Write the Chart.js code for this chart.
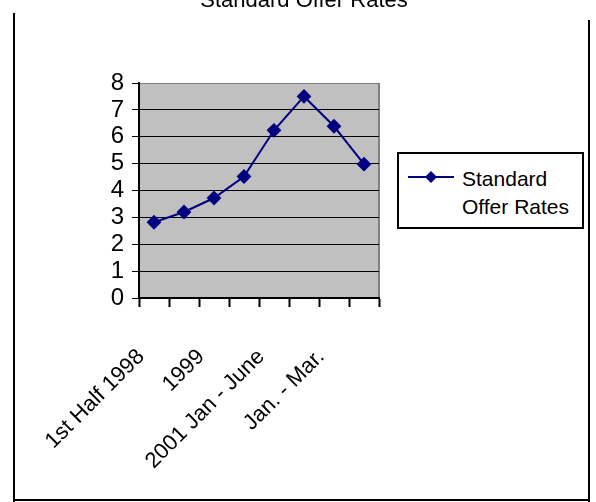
<!DOCTYPE html>
<html>
<head>
<meta charset="utf-8">
<script src="https://cdn.jsdelivr.net/npm/chart.js@4"></script>
<style>
  body { margin: 0; background: #fff; font-family: "Liberation Sans", Arial, sans-serif; }
  #frame { position: relative; width: 596px; height: 502px; overflow: hidden; background: #fff; }
  #titulo { position: absolute; left: 0; width: 608px; top: -13px; text-align: center; font-size: 22px; line-height: 26px; color: #000; }
  .edge { position: absolute; background: #000; }
  #legend {
    position: absolute; left: 397px; top: 152px; width: 183px; height: 73px;
    border: 2px solid #000; background: #fff; font-size: 21px; color: #000;
  }
  #legend .txt { position: absolute; left: 63px; top: 11px; line-height: 28px; }
  #legend svg { position: absolute; left: 9px; top: 16px; }
</style>
</head>
<body>
<div id="frame">
  <canvas id="chartRates" width="596" height="502" style="position:absolute; left:0; top:0;"></canvas>
  <div id="titulo">Standard Offer Rates</div>
  <div class="edge" style="left:13px; top:13px; width:2px; height:489px;"></div>
  <div class="edge" style="left:588px; top:20px; width:2px; height:482px;"></div>
  <div class="edge" style="left:13px; top:499px; width:577px; height:2px;"></div>
  <div id="legend">
    <svg width="50" height="14"><line x1="0" y1="7" x2="46" y2="7" stroke="#000080" stroke-width="2"/><polygon points="23,1 29,7 23,13 17,7" fill="#000080"/></svg>
    <div class="txt">Standard<br>Offer Rates</div>
  </div>
</div>
<script>
// dados do grafico
var periodos = ['1st Half 1998', '2nd Half 1998', '1999', '2000', '2001 Jan - June', '2001 July - Dec.', 'Jan. - Mar.', 'Apr. - June'];
var taxas = [2.82, 3.20, 3.72, 4.52, 6.24, 7.50, 6.39, 4.98];
var marcasY = [0, 1, 2, 3, 4, 5, 6, 7, 8];

var fonte = '"Liberation Sans", Arial, sans-serif';

// fundo cinza da area do grafico
const fundoPlot = {
    id: 'fundoPlot',
    beforeDraw(chart) {
        const a = chart.chartArea;
        const ctx = chart.ctx;
        ctx.save();
        ctx.fillStyle = '#C0C0C0';
        ctx.fillRect(a.left, a.top, a.right - a.left, a.bottom - a.top);
        ctx.strokeStyle = '#808080';
        ctx.lineWidth = 2;
        ctx.beginPath();
        ctx.moveTo(a.right, a.top);
        ctx.lineTo(a.right, a.bottom);
        ctx.stroke();
        ctx.restore();
    }
};

const config = {
    type: 'line',
    data: {
        labels: periodos,
        datasets: [{
            label: 'Standard Offer Rates',
            data: taxas,
            borderColor: '#000080',
            backgroundColor: '#000080',
            borderWidth: 2,
            pointStyle: 'rectRot',
            pointRadius: 6,
            pointHoverRadius: 6,
            tension: 0,
            fill: false
        }]
    },
    options: {
        responsive: false,
        animation: false,
        layout: { padding: { left: 0, right: 217, top: 83, bottom: 0 } },
        plugins: {
            legend: { display: false },
            tooltip: { enabled: false },
            title: { display: false }
        },
        scales: {
            x: {
                offset: true,
                afterFit(scale) { scale.height = 204; },
                grid: {
                    offset: true,
                    drawOnChartArea: false,
                    drawTicks: true,
                    tickLength: 9,
                    tickWidth: 2,
                    tickColor: '#000'
                },
                border: { color: '#000', width: 2 },
                ticks: {
                    autoSkip: false,
                    maxRotation: 45,
                    minRotation: 45,
                    padding: 37,
                    labelOffset: -13,
                    color: '#000',
                    font: { family: fonte, size: 22 },
                    callback: function (v, i) { return i % 2 == 0 ? periodos[i] : ''; }
                }
            },
            y: {
                min: 0,
                max: 8,
                afterFit(scale) { scale.width = 139; },
                afterBuildTicks(scale) { scale.ticks = marcasY.map(v => ({ value: v })); },
                grid: {
                    color: ctx => (ctx.tick && ctx.tick.value === 8) ? '#808080' : '#000',
                    lineWidth: 1,
                    tickLength: 7,
                    tickColor: '#000'
                },
                border: { color: '#000', width: 2 },
                ticks: {
                    autoSkip: false,
                    stepSize: 1,
                    padding: 8,
                    color: '#000',
                    font: { family: fonte, size: 24 }
                }
            }
        }
    },
    plugins: [fundoPlot]
};

new Chart(document.getElementById('chartRates'), config);
</script>
</body>
</html>
